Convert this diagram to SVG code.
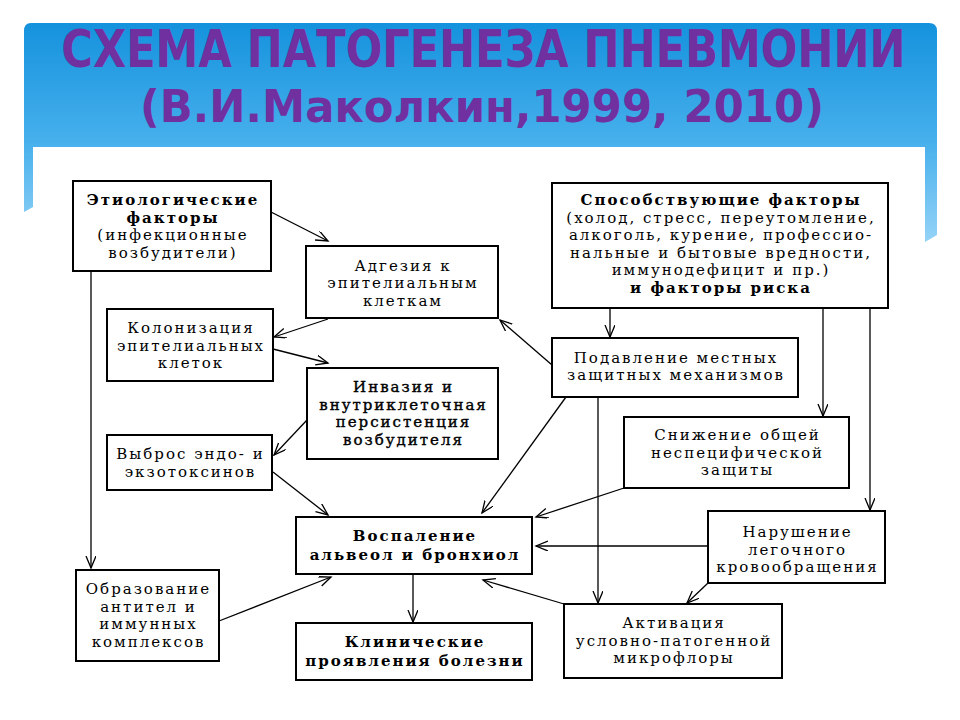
<svg xmlns="http://www.w3.org/2000/svg" width="960" height="720" viewBox="0 0 960 720">
<defs>
<linearGradient id="bg" x1="0" y1="23" x2="0" y2="240" gradientUnits="userSpaceOnUse">
<stop offset="0" stop-color="#1592DD"/>
<stop offset="0.55" stop-color="#47B0EC"/>
<stop offset="1" stop-color="#93D2F7"/>
</linearGradient>
<marker id="ar" markerUnits="userSpaceOnUse" markerWidth="14" markerHeight="12" refX="12" refY="5" orient="auto">
<path d="M0,0 L12,5 L0,10" fill="none" stroke="#000" stroke-width="1.3"/>
</marker>
<style>
.box{fill:#fff;stroke:#000;stroke-width:2}
.t{font-family:"DejaVu Serif","Liberation Serif",serif;font-size:15px;letter-spacing:2px;text-anchor:middle;fill:#000}
.b{font-weight:bold}
.m{stroke:#000;stroke-width:0.4}
.c{fill:none;stroke:#000;stroke-width:1.3;marker-end:url(#ar)}
.title{font-family:"DejaVu Sans","Liberation Sans",sans-serif;font-weight:bold;fill:#7030A0;text-anchor:middle}
</style>
</defs>
<rect width="960" height="720" fill="#fff"/>
<g id="header">
<path d="M31,23 H929 Q937,23 937,31 V235 L925,242 V147 H33 V207 L24,212 V31 Q24,23 31,23 Z" fill="url(#bg)"/>
<text class="title" font-size="51" transform="translate(483.5,67) scale(0.845,1)">СХЕМА ПАТОГЕНЕЗА ПНЕВМОНИИ</text>
<text class="title" font-size="44" transform="translate(482,122) scale(0.985,1)">(В.И.Маколкин,1999, 2010)</text>
</g>
<g id="connectors">
<line class="c" x1="271" y1="212" x2="328" y2="241"/>
<line class="c" x1="328" y1="319" x2="274" y2="337"/>
<line class="c" x1="273" y1="349" x2="328" y2="363"/>
<line class="c" x1="307" y1="420" x2="274" y2="455"/>
<line class="c" x1="273" y1="472" x2="328" y2="515"/>
<line class="c" x1="91" y1="271" x2="91" y2="568"/>
<line class="c" x1="219" y1="621" x2="331" y2="577"/>
<line class="c" x1="413" y1="574" x2="413" y2="622"/>
<line class="c" x1="610" y1="308" x2="610" y2="337"/>
<line class="c" x1="823" y1="308" x2="823" y2="416"/>
<line class="c" x1="870" y1="308" x2="870" y2="510"/>
<line class="c" x1="552" y1="365" x2="500" y2="320"/>
<line class="c" x1="566" y1="397" x2="482" y2="513"/>
<line class="c" x1="598" y1="397" x2="598" y2="603"/>
<line class="c" x1="624" y1="488" x2="536" y2="517"/>
<line class="c" x1="708" y1="546" x2="536" y2="546"/>
<line class="c" x1="708" y1="583" x2="687" y2="603"/>
<line class="c" x1="564" y1="604" x2="483" y2="580"/>
</g>
<g id="n-etio">
<rect class="box" x="73" y="181" width="198" height="90"/>
<text class="t b" x="173" y="205">Этиологические</text>
<text class="t b" x="173" y="222.5">факторы</text>
<text class="t" x="173" y="240">(инфекционные</text>
<text class="t" x="173" y="257.5">возбудители)</text>
</g>
<g id="n-adg">
<rect class="box" x="306" y="246" width="192" height="72"/>
<text class="t" x="403" y="270.5">Адгезия к</text>
<text class="t" x="403" y="288">эпителиальным</text>
<text class="t" x="403" y="305.5">клеткам</text>
</g>
<g id="n-kol">
<rect class="box" x="107" y="309" width="166" height="72"/>
<text class="t" x="191" y="333">Колонизация</text>
<text class="t" x="191" y="350.5">эпителиальных</text>
<text class="t" x="191" y="368">клеток</text>
</g>
<g id="n-inv">
<rect class="box" x="307" y="368" width="191" height="91"/>
<text class="t m" x="403.5" y="392">Инвазия и</text>
<text class="t m" x="403.5" y="409.5">внутриклеточная</text>
<text class="t m" x="403.5" y="427">персистенция</text>
<text class="t m" x="403.5" y="444.5">возбудителя</text>
</g>
<g id="n-vyb">
<rect class="box" x="107" y="435" width="165" height="55"/>
<text class="t" x="190.5" y="459">Выброс эндо- и</text>
<text class="t" x="190.5" y="476.5">экзотоксинов</text>
</g>
<g id="n-vosp">
<rect class="box" x="296" y="517" width="236" height="57"/>
<text class="t b" x="415" y="541">Воспаление</text>
<text class="t b" x="415" y="560">альвеол и бронхиол</text>
</g>
<g id="n-klin">
<rect class="box" x="296" y="623" width="236" height="57"/>
<text class="t b" x="415" y="647">Клинические</text>
<text class="t b" x="415" y="666">проявления болезни</text>
</g>
<g id="n-obr">
<rect class="box" x="76" y="570" width="143" height="91"/>
<text class="t" x="148.5" y="594">Образование</text>
<text class="t" x="148.5" y="611.5">антител и</text>
<text class="t" x="148.5" y="629">иммунных</text>
<text class="t" x="148.5" y="646.5">комплексов</text>
</g>
<g id="n-sposob">
<rect class="box" x="552" y="183" width="336" height="125"/>
<text class="t b" x="721" y="205">Способствующие факторы</text>
<text class="t" x="721" y="222.5">(холод, стресс, переутомление,</text>
<text class="t" x="721" y="240">алкоголь, курение, профессио-</text>
<text class="t" x="721" y="257.5">нальные и бытовые вредности,</text>
<text class="t" x="721" y="275">иммунодефицит и пр.)</text>
<text class="t b" x="721" y="292.5">и факторы риска</text>
</g>
<g id="n-podav">
<rect class="box" x="552" y="338" width="246" height="59"/>
<text class="t" x="676" y="362.5">Подавление местных</text>
<text class="t" x="676" y="380">защитных механизмов</text>
</g>
<g id="n-snizh">
<rect class="box" x="624" y="417" width="225" height="71"/>
<text class="t" x="737.5" y="440">Снижение общей</text>
<text class="t" x="737.5" y="457.5">неспецифической</text>
<text class="t" x="737.5" y="475">защиты</text>
</g>
<g id="n-narush">
<rect class="box" x="708" y="511" width="177" height="72"/>
<text class="t" x="797.5" y="537">Нарушение</text>
<text class="t" x="797.5" y="554.5">легочного</text>
<text class="t" x="797.5" y="572">кровообращения</text>
</g>
<g id="n-aktiv">
<rect class="box" x="564" y="604" width="218" height="74"/>
<text class="t" x="674" y="628">Активация</text>
<text class="t" x="674" y="645.5">условно-патогенной</text>
<text class="t" x="674" y="663">микрофлоры</text>
</g>
</svg>
